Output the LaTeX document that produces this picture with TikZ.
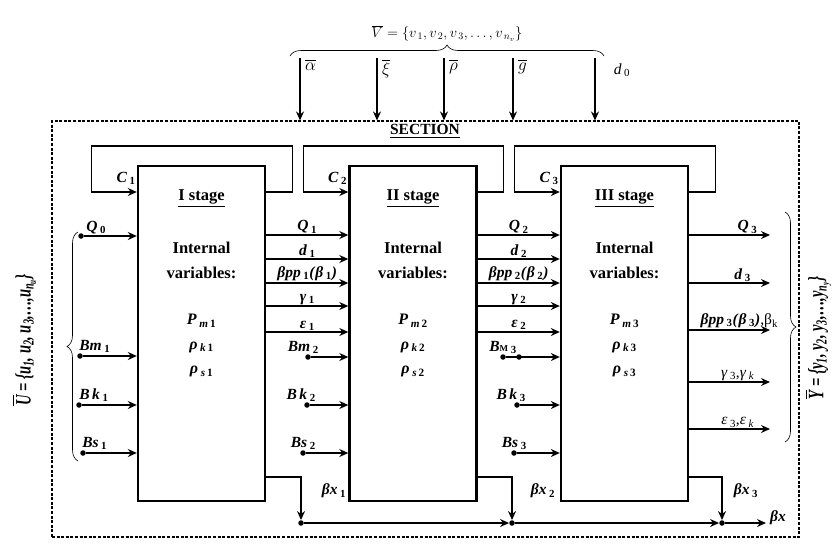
\documentclass[tikz,border=0pt]{standalone}
\usepackage{amsmath}
\usepackage{fontspec}
\setmainfont{Liberation Serif}
\usetikzlibrary{arrows.meta,positioning,calc,decorations.pathreplacing}
\newcommand{\bv}[2]{\textbf{\textit{#1}}\,\textsubscript{\textbf{#2}}}
\newcommand{\rv}[2]{\textit{#1}\,\textsubscript{#2}}
\tikzset{
  stagebox/.style={draw, line width=2.4pt, minimum width=127pt, minimum height=335pt, inner sep=0pt},
  secframe/.style={draw, line width=1.1pt, dash pattern=on 3pt off 1.6pt, minimum width=747pt, minimum height=416pt, inner sep=0pt},
  sig/.style={-{Stealth[length=9pt,width=8pt,inset=3pt]}, line width=1.3pt},
  sigb/.style={sig, line width=2.1pt},
  tap/.style={circle, fill, inner sep=0pt, minimum size=5.5pt},
  slab/.style={font=\fontsize{15.5}{17}\selectfont, inner sep=1pt},
  ttl/.style={font=\fontsize{16.5}{25}\selectfont\bfseries},
  vlab/.style={font=\fontsize{16}{24.5}\selectfont},
  setlab/.style={rotate=90, font=\fontsize{22}{24}\selectfont\bfseries\itshape},
  brc/.style={decorate, decoration={brace, amplitude=11pt}, line width=0.6pt},
}

\begin{document}
\begin{tikzpicture}[x=1pt, y=-1pt]
  \useasboundingbox (0,0) rectangle (836,547);
  % section frame and stages
  \node[secframe] (frame) at (425.5,329) {};
  \node[font=\fontsize{15.5}{17}\selectfont\bfseries] (sec) at (425,131) {\underline{SECTION}};
  \node[stagebox] (s1) at (201.5,333.5) {};
  \node[stagebox] (s2) at (413,333.5) {};
  \node[stagebox] (s3) at (624.5,333.5) {};
  % signal levels
  \coordinate (yT) at (0,146); \coordinate (yC) at (0,192);
  \coordinate (yQ) at (0,235); \coordinate (yD) at (0,259); \coordinate (yP) at (0,283);
  \coordinate (yG) at (0,306); \coordinate (yE) at (0,332);
  \coordinate (yX) at (0,477);
  \foreach \i/\r in {1/I, 2/II, 3/III} {
    \node[ttl] (t\i) at ($(s\i.north)+(0,34)$) {\underline{\r\ stage}};
    \node[ttl, align=center] (iv\i) at ($(s\i.north)+(0,96)$) {Internal\\variables:};
    \node[vlab, align=center] (pv\i) at ($(s\i.north)+(0,181)$)
      {\bv{P}{\textit{m}\,\i}\\\bv{ρ}{\textit{k}\,\i}\\\bv{ρ}{\textit{s}\,\i}};
    % feedback loop
    \draw[sig] (s\i.east |- yC) -- ++(26,0) |- ($(s\i.west |- yT)+(-45,0)$) |- (s\i.west |- yC);
    \node[slab, anchor=south east] (c\i) at ($(s\i.north west)+(0,21)$) {\bv{C}{\i}};
  }
  % links between stages
  \foreach \i/\j in {1/2, 2/3} {
    \draw[sig] (s\i.east |- yQ) -- (s\j.west |- yQ) node[midway, above, slab] {\bv{Q}{\i}};
    \draw[sig] (s\i.east |- yD) -- (s\j.west |- yD) node[midway, above, slab] {\bv{d}{\i}};
    \draw[sigb] (s\i.east |- yP) -- (s\j.west |- yP) node[midway, above, slab]
      {\bv{βpp}{\i}\textbf{\textit{(}}\bv{β}{\i}\textbf{\textit{)}}};
    \draw[sig] (s\i.east |- yG) -- (s\j.west |- yG) node[midway, above, slab] {\bv{γ}{\i}};
  }
  \draw[sig] (s1.east |- yE) -- (s2.west |- yE) node[midway, above, slab] {\bv{ε}{1}};
  \draw[sigb] (s2.east |- yE) -- (s3.west |- yE) node[midway, above, slab] {\bv{ε}{2}};
  % inputs of stage I
  \node[tap] (q0) at (81,236) {};
  \node[tap] (bm1) at (80,356) {};
  \node[tap] (bk1) at (79,405) {};
  \node[tap] (bs1) at (83,453) {};
  \node[slab, above right=-1pt and 2pt of q0] {\bv{Q}{0}};
  \node[slab, above right=0pt and -4pt of bm1] {\bv{Bm}{1}};
  \node[slab, above right=0pt and -3pt of bk1] {\bv{B\,k}{1}};
  \node[slab, above right=0pt and -4pt of bs1] {\bv{Bs}{1}};
  \foreach \n in {q0, bm1, bk1, bs1} \draw[sig] (\n) -- (\n -| s1.west);
  % inputs of stage II
  \node[tap] (bm2) at (308,357) {};
  \node[tap] (bk2) at (307,405) {};
  \node[tap] (bs2) at (303,453) {};
  \node[slab, above left=0pt and -14pt of bm2] {\bv{Bm}{2}};
  \node[slab, above left=0pt and -12pt of bk2] {\bv{B\,k}{2}};
  \node[slab, above left=0pt and -16pt of bs2] {\bv{Bs}{2}};
  \foreach \n in {bm2, bk2, bs2} \draw[sig] (\n) -- (\n -| s2.west);
  % inputs of stage III
  \node[tap] (bm3) at (503,357) {};
  \node[tap] (bm3b) at (519,357) {};
  \node[tap] (bk3) at (517,405) {};
  \node[tap] (bs3) at (514,453) {};
  \node[slab, above left=0pt and -17pt of bm3] {\textbf{\textit{B}}\textbf{\small M}\,\textsubscript{\textbf{3}}};
  \node[slab, above left=0pt and -12pt of bk3] {\bv{B\,k}{3}};
  \node[slab, above left=0pt and -16pt of bs3] {\bv{Bs}{3}};
  \foreach \n in {bm3, bk3, bs3} \draw[sig] (\n) -- (\n -| s3.west);
  % outputs of stage III
  \coordinate (o1) at (770,235); \coordinate (o2) at (770,283); \coordinate (o3) at (770,330);
  \coordinate (o4) at (770,382); \coordinate (o5) at (770,429);
  \draw[sig] (s3.east |- o1) -- (o1) node[pos=0.72, above, slab] {\bv{Q}{3}};
  \draw[sig] (s3.east |- o2) -- (o2) node[pos=0.66, above, slab] {\bv{d}{3}};
  \draw[sigb] (s3.east |- o3) -- (o3) node[pos=0.62, above, slab]
    {\bv{βpp}{3}\textbf{\textit{(}}\bv{β}{3}\textbf{\textit{)}},β\textsubscript{k}};
  \draw[sig] (s3.east |- o4) -- (o4) node[pos=0.6, above, slab] {\rv{γ}{3},\rv{γ}{\textit{k}}};
  \draw[sig] (s3.east |- o5) -- (o5) node[pos=0.6, above, slab] {\rv{ε}{3},\rv{ε}{\textit{k}}};
  % collector of beta x
  \node[tap] (j1) at (301,523) {};
  \node[tap] (j2) at (512,523) {};
  \node[tap] (j3) at (722,523) {};
  \coordinate (bxo) at (766,523);
  \draw[sig] (s1.east |- yX) -| (j1);
  \draw[sig] (s2.east |- yX) -| (j2);
  \draw[sig] (s3.east |- yX) -| (j3);
  \draw[sig] (j1) -- (j2);
  \draw[sig] (j2) -- (j3);
  \draw[sig] (j3) -- (bxo);
  \node[slab] (lx1) at (334,491) {\bv{βx}{1}};
  \node[slab] (lx2) at (543,491) {\bv{βx}{2}};
  \node[slab] (lx3) at (746,491) {\bv{βx}{3}};
  \node[slab, right=3pt of bxo, yshift=5pt] (lx) {\textbf{\textit{βx}}};
  % external influences
  \draw[brc] (290,56) -- (604,56) node[midway, above=11pt, font=\fontsize{14}{16}\selectfont] (vset)
    {$\overline{V}=\{v_{\,1},v_{\,2},v_{\,3},\dots,v_{\,n_v}\}$};
  \foreach \x/\lab/\nm in {300/{$\overline{\alpha}$}/va, 377/{$\overline{\xi}$}/vx, 444/{$\overline{\rho}$}/vr, 513/{$\overline{g}$}/vg} {
    \coordinate (\nm) at (\x,58);
    \draw[sig] (\nm) -- (\nm |- frame.north);
    \node[font=\fontsize{18}{20}\selectfont, inner sep=1pt, anchor=north west] at ($(\nm)+(4,0)$) {\lab};
  }
  \coordinate (vd) at (595,58);
  \draw[sig] (vd) -- (vd |- frame.north);
  \node[slab] (d0) at (622,70) {\rv{d}{0}};
  % input and output sets
  \draw[brc] (78,461) -- (78,232);
  \draw[brc] (785,212) -- (785,442);
  \node[setlab] (uset) at (24,340)
    {\scalebox{0.66}[1]{$\overline{\mbox{U}}$ = \{u\textsubscript{1}, u\textsubscript{2}, u\textsubscript{3},…,u\textsubscript{\textit{n}\textsubscript{u}}\}}};
  \node[setlab] (yset) at (818,338)
    {\scalebox{0.66}[1]{$\overline{\mbox{Y}}$ = \{y\textsubscript{1}, y\textsubscript{2}, y\textsubscript{3},…,y\textsubscript{\textit{n}\textsubscript{y}}\}}};
\end{tikzpicture}
\end{document}
